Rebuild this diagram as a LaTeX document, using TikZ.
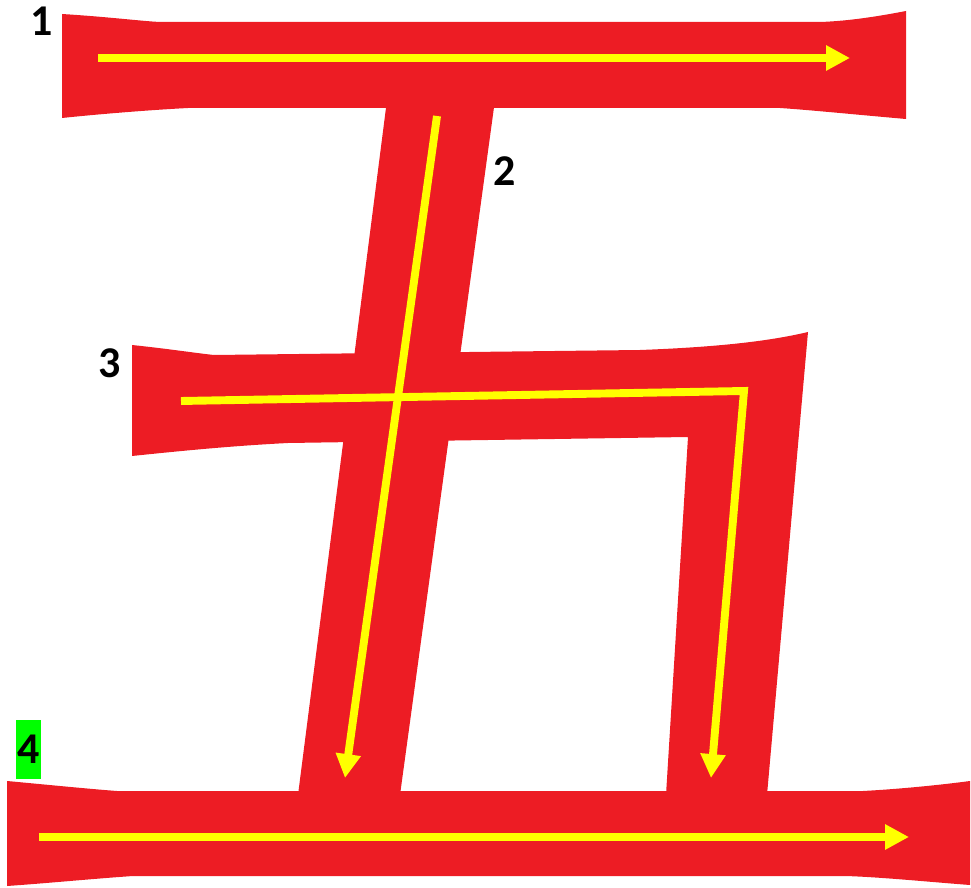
\documentclass[tikz,border=0pt]{standalone}
\usepackage{fontspec}
\setmainfont{Carlito}
\usetikzlibrary{arrows.meta}
\definecolor{strokered}{HTML}{ED1C24}
\definecolor{orderyellow}{HTML}{FFFF00}
\definecolor{markgreen}{HTML}{00FF00}

\begin{document}
\begin{tikzpicture}[x=0.02cm,y=-0.02cm,
  strokefill/.style={fill=strokered,draw=none},
  orderarrow/.style={draw=orderyellow,line width=4.5pt,miter limit=10,-{Triangle[length=13.6pt,width=13.6pt,fill=orderyellow]}},
  numlabel/.style={font=\fontsize{25pt}{30pt}\selectfont\bfseries,inner sep=0pt,text=black}]
\useasboundingbox (0,0) rectangle (971,888);
% stroke 1
\fill[strokefill] (62,14) .. controls (110,17) and (140,21) .. (160,22) -- (820,22) .. controls (850,21) and (880,16) .. (906,11) -- (906,119) .. controls (860,115) and (810,110) .. (780,108) -- (188,108) .. controls (150,110) and (100,114) .. (62,118) -- cycle;
% stroke 2
\fill[strokefill] (387,100) -- (495,100) -- (400,795) -- (298,795) -- cycle;
% stroke 3
\fill[strokefill] (132,345) .. controls (170,349) and (195,353) .. (214,355) -- (640,350) .. controls (720,347) and (770,341) .. (808,332) -- (767,795) -- (666,795) -- (688,437) -- (288,443) .. controls (230,446) and (180,451) .. (132,456) -- cycle;
% stroke 4
\fill[strokefill] (7,781) .. controls (50,785) and (90,789) .. (117,791) -- (863,791) .. controls (900,789) and (940,785) .. (970,781) -- (970,885) .. controls (930,882) and (880,877) .. (845,876) -- (133,876) .. controls (90,879) and (50,883) .. (7,886) -- cycle;
% stroke order
\draw[orderarrow] (98,58) -- (850,58);
\draw[orderarrow] (437,116) -- (345,778);
\draw[orderarrow] (181,401) -- (744,391) -- (711,778);
\draw[orderarrow] (39,837) -- (909,837);
% numbers
\foreach \x/\y/\t/\id in {42/21/1/n1,505/171/2/n2,110/363/3/n3}
  \node[numlabel] (\id) at (\x,\y) {\t};
\node[numlabel,fill=markgreen,minimum width=14.2pt,minimum height=33.4pt] (n4) at (28.5,749.5) {4};
\end{tikzpicture}
\end{document}
